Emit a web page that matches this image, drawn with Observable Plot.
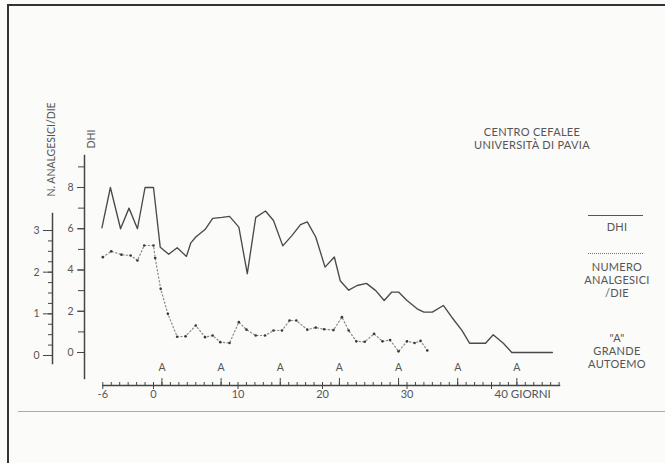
<!DOCTYPE html>
<html><head><meta charset="utf-8">
<script src="https://cdn.jsdelivr.net/npm/d3@7"></script>
<script src="https://cdn.jsdelivr.net/npm/@observablehq/plot@0.6"></script>
<style>
body{margin:0;background:#fbfbf9;}
#wrap{position:relative;width:665px;height:463px;overflow:hidden;font-family:Lato,"Noto Sans",sans-serif;color:#555;}
#wrap svg{position:absolute;left:0;top:0;}
.lbl{position:absolute;text-align:center;font-size:11px;line-height:12.8px;color:#555;letter-spacing:0.3px;white-space:nowrap;}
.sw{position:absolute;width:55px;height:0;}
.edge{position:absolute;background:#333;}
</style></head>
<body>
<div id="wrap">
  <div class="edge" style="left:7px;top:4px;width:2px;height:459px;"></div>
  <div class="edge" style="left:7px;top:4px;width:658px;height:2px;"></div>
  <div class="edge" style="left:18px;top:411px;width:647px;height:1px;background:#aaa;"></div>
  <div class="lbl" style="left:462px;top:126px;width:140px;">CENTRO CEFALEE<br>UNIVERSITÀ DI PAVIA</div>
  <div class="sw" style="left:588px;top:215px;border-top:1.4px solid #555;"></div>
  <div class="lbl" style="left:577px;top:221px;width:80px;">DHI</div>
  <div class="sw" style="left:588px;top:253px;border-top:1.5px dotted #777;"></div>
  <div class="lbl" style="left:567px;top:261px;width:100px;">NUMERO<br>ANALGESICI<br>/DIE</div>
  <div class="lbl" style="left:567px;top:332px;width:100px;">"A"<br>GRANDE<br>AUTOEMO</div>
</div>
<script>
// DHI (solid line)
const dhiDays   = [-6.1,-5.1,-3.9,-2.9,-1.9,-1.0,0,0.8,1.8,2.8,3.9,4.4,5.0,6.1,7.0,8.1,9.0,10.1,11.1,12.1,13.25,14.2,15.3,16.4,17.4,18.2,19.2,20.3,21.4,22.1,23.1,24.1,25.2,26.3,27.3,28.2,29.0,30.0,31.2,32.0,33.0,34.3,35.3,36.5,37.4,39.3,40.2,41.4,42.4,47.2];
const dhiValues = [6.05,8.0,6.0,7.0,6.0,8.0,8.0,5.1,4.76,5.08,4.66,5.3,5.6,5.96,6.5,6.55,6.6,6.08,3.82,6.55,6.86,6.4,5.17,5.68,6.2,6.33,5.6,4.14,4.63,3.48,3.02,3.25,3.35,3.0,2.52,2.93,2.93,2.52,2.12,1.96,1.96,2.28,1.71,1.07,0.45,0.45,0.86,0.45,0,0];
// Numero analgesici / die (dotted line)
const anDays   = [-6,-5,-3.8,-2.7,-1.9,-1.1,0,0.2,0.85,1.7,2.8,3.8,5.0,6.1,7.0,7.9,9.0,10.1,11.0,12.1,13.2,14.2,15.2,16.1,16.9,18.2,19.2,20.2,21.3,22.3,23.1,24.0,25.0,26.1,27.1,28.0,29.0,30.0,30.9,31.6,32.4];
const anValues = [2.36,2.5,2.42,2.4,2.28,2.64,2.64,2.34,1.6,1.0,0.45,0.46,0.72,0.44,0.48,0.32,0.3,0.8,0.62,0.48,0.48,0.6,0.6,0.84,0.84,0.62,0.67,0.63,0.61,0.92,0.6,0.34,0.33,0.52,0.34,0.37,0.1,0.34,0.3,0.35,0.12];
// Grande autoemo days
const autoemoDays = [1,8,15,22,29,36,43];
// Tick labels
const xTickValues = [-6,0,10,20,30];
const xTickLabels = ["-6","0","10","20","30"];
const xEndTick = [40];
const xEndLabel = "GIORNI";
const dhiTicks = [0,2,4,6,8];
const anTicks = [0,1,2,3];

const dhi = dhiDays.map((d,i)=>({day:d, v:dhiValues[i]}));
const an = anDays.map((d,i)=>({day:d, v:anValues[i]}));

const W = 665, H = 463;
const font = "Lato, 'Noto Sans', sans-serif";
const ink = "#454545";
const xOpt = {domain:[-6,48], range:[102.3,558.6], axis:null};

const plotA = Plot.plot({
  width: W, height: H,
  marginLeft: 84, marginTop: 155, marginRight: 106, marginBottom: 78,
  style: {background:"transparent", fontFamily: font, fontSize:"10px", color:"#555", overflow:"visible"},
  x: xOpt,
  y: {domain:[0,8], range:[352,187], axis:null},
  marks: [
    Plot.frame({anchor:"left", insetBottom:7, stroke:ink, strokeWidth:1.5}),
    Plot.axisY(d3.range(0,10), {anchor:"left", tickSize:6, tickFormat:()=>"", stroke:ink, label:null}),
    Plot.axisY(dhiTicks, {anchor:"left", tickSize:7, tickPadding:4, stroke:ink, fill:"#555", fontSize:10.5, label:null}),
    Plot.text(["DHI"], {frameAnchor:"top-left", rotate:-90, textAnchor:"start", dx:3, dy:-7, fill:"#555", fontSize:10.5, letterSpacing:1.2}),
    // x axis
    Plot.frame({anchor:"bottom", insetLeft:18.3, stroke:ink, strokeWidth:1.5}),
    Plot.axisX(d3.range(-6,49), {anchor:"bottom", tickSize:-3, tickFormat:()=>"", stroke:ink, label:null}),
    Plot.axisX(xTickValues.concat(xEndTick), {anchor:"bottom", tickSize:4, tickFormat:()=>"", stroke:ink, label:null}),
    Plot.axisX(autoemoDays, {anchor:"bottom", tickSize:-7, tickFormat:()=>"", stroke:ink, label:null}),
    Plot.text(autoemoDays, {x:d=>d, text:()=>"A", frameAnchor:"bottom", dy:-15, fill:"#555", fontSize:10.5}),
    Plot.text(xTickValues, {x:d=>d, text:(d,i)=>xTickLabels[i], frameAnchor:"bottom", dy:12, fill:"#555", fontSize:11}),
    Plot.text(xEndTick, {x:d=>d, text:d=>`${d} ${xEndLabel}`, frameAnchor:"bottom", dy:12, dx:3, textAnchor:"start", fill:"#555", fontSize:11.5, letterSpacing:0.6}),
    // DHI line
    Plot.line(dhi, {x:"day", y:"v", stroke:"#4a4a4a", strokeWidth:1.35, curve:"linear"})
  ]
});

const plotB = Plot.plot({
  width: W, height: H,
  marginLeft: 52, marginTop: 213, marginRight: 106, marginBottom: 100,
  style: {background:"transparent", fontFamily: font, fontSize:"10px", color:"#555", overflow:"visible"},
  x: xOpt,
  y: {domain:[0,3], range:[355,230], axis:null},
  marks: [
    Plot.frame({anchor:"left", stroke:ink, strokeWidth:1.5}),
    Plot.axisY(d3.range(0,3.01,0.25), {anchor:"left", tickSize:4, tickFormat:()=>"", stroke:ink, label:null}),
    Plot.axisY(anTicks, {anchor:"left", tickSize:9, tickPadding:4, stroke:ink, fill:"#555", fontSize:10.5, label:null}),
    Plot.text(["N. ANALGESICI/DIE"], {frameAnchor:"top-left", rotate:-90, textAnchor:"start", dx:-5, dy:-17, fill:"#555", fontSize:10.5, letterSpacing:0.6}),
    Plot.line(an, {x:"day", y:"v", stroke:"#8a8a8a", strokeWidth:1.2, strokeDasharray:"1.3 2.4"}),
    Plot.dot(an, {x:"day", y:"v", r:1.3, fill:"#3a3a3a", stroke:"none"})
  ]
});

const wrap = document.getElementById("wrap");
wrap.appendChild(plotB);
wrap.appendChild(plotA);
</script>
</body></html>
